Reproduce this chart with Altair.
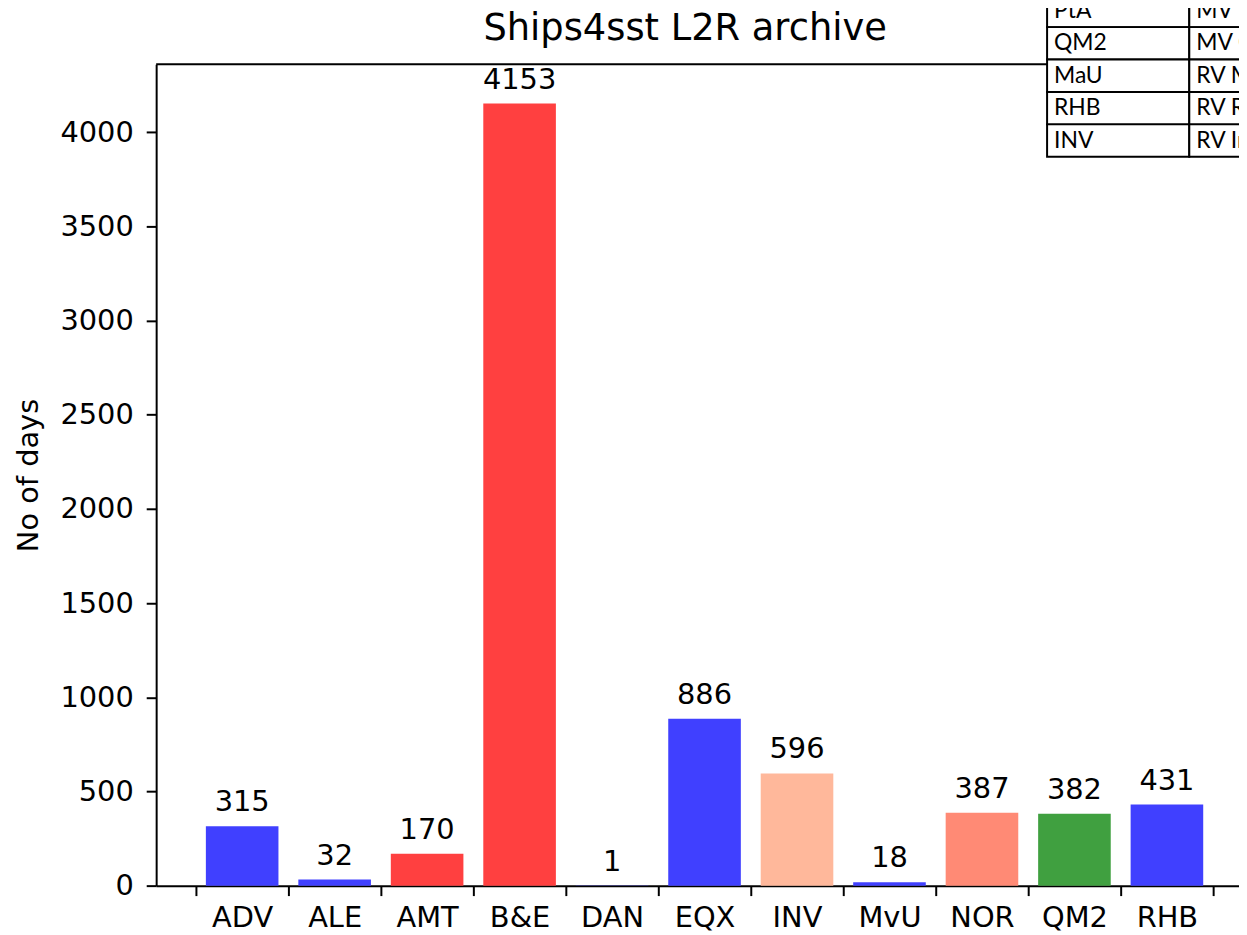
import altair as alt
import pandas as pd

# ---- data ----
ships = ["ADV", "ALE", "AMT", "B&E", "DAN", "EQX", "INV", "MvU", "NOR", "QM2", "RHB"]
days = [315, 32, 170, 4153, 1, 886, 596, 18, 387, 382, 431]
bar_colors = ["#4040ff", "#4040ff", "#ff4040", "#ff4040", "#4040ff", "#4040ff",
              "#ffb89b", "#4040ff", "#ff8a75", "#40a040", "#4040ff"]
y_ticks = [0, 500, 1000, 1500, 2000, 2500, 3000, 3500, 4000]
title_text = "Ships4sst L2R archive"

table_codes = ["PtA", "QM2", "MaU", "RHB", "INV"]
table_names = ["MV Pont-Aven", "MV Queen Mary 2", "RV Maria S. Merian",
               "RV Ronald H. Brown", "RV Investigator"]

df = pd.DataFrame({"ship": ships, "days": days})
tdf = pd.DataFrame(
    [{"code": c, "col": "code", "label": c} for c in table_codes]
    + [{"code": c, "col": "name", "label": n} for c, n in zip(table_codes, table_names)]
)

FONT = "DejaVu Sans"
W, H = 1089, 826

xscale = alt.Scale(domain=ships, range=[0, 1103], paddingInner=0, paddingOuter=0.43)
yscale = alt.Scale(domain=[0, 4360.65], nice=False, zero=True)

base = alt.Chart(df)

bars = base.mark_bar(width=alt.RelativeBandSize(0.785)).encode(
    x=alt.X("ship:N", scale=xscale, title=None,
            axis=alt.Axis(tickBand="extent", labelAngle=0, labelFontSize=29,
                          labelPadding=8, tickSize=10, tickWidth=2, domainWidth=2)),
    y=alt.Y("days:Q", scale=yscale, title="No of days",
            axis=alt.Axis(values=y_ticks, format="d", labelFontSize=29, labelPadding=13,
                          tickSize=10, tickWidth=2, domainWidth=2, grid=False,
                          titleFontSize=29, titleFontWeight="normal",
                          titleX=-128, titleY=413, titleAngle=-90,
                          titleAlign="center", titleBaseline="middle")),
    color=alt.Color("ship:N", scale=alt.Scale(domain=ships, range=bar_colors), legend=None),
)

labels = base.mark_text(font=FONT, fontSize=29, dy=-15, baseline="alphabetic",
                        color="black").encode(
    x=alt.X("ship:N", scale=xscale),
    y=alt.Y("days:Q", scale=yscale),
    text=alt.Text("days:Q", format="d"),
)

one = pd.DataFrame({"t": [title_text]})
spine = alt.Chart(one).mark_rule(color="black", strokeWidth=2).encode(
    x=alt.value(0), x2=alt.value(1103), y=alt.value(0)
)
title = alt.Chart(one).mark_text(font=FONT, fontSize=37, align="center",
                                 baseline="alphabetic", color="black").encode(
    x=alt.value(532), y=alt.value(-24), text="t:N"
)

main = alt.layer(bars, labels, spine, title)

tx = alt.Scale(domain=["code", "name"], range=[896, 1182], paddingInner=0, paddingOuter=0)
ty = alt.Scale(domain=table_codes, range=[-70, 93], paddingInner=0, paddingOuter=0)

rects = alt.Chart(tdf).mark_rect(fill="white", stroke="black", strokeWidth=2).encode(
    x=alt.X("col:N", scale=tx, axis=None),
    y=alt.Y("code:N", scale=ty, axis=None),
)
texts = alt.Chart(tdf).mark_text(align="left", baseline="middle", dx=7, font="Lato",
                                 fontSize=23, color="black").encode(
    x=alt.X("col:N", scale=tx, axis=None, bandPosition=0),
    y=alt.Y("code:N", scale=ty, axis=None),
    text="label:N",
)
table = alt.layer(rects, texts)

chart = alt.layer(main, table).resolve_scale(
    x="independent", y="independent"
).properties(
    width=W, height=H,
    autosize=alt.AutoSizeParams(type="none"),
    padding={"left": 149, "top": 54, "right": 0, "bottom": 47},
).configure_view(stroke=None).configure_axis(
    labelFont=FONT, titleFont=FONT, labelColor="black", titleColor="black",
    tickColor="black", domainColor="black"
)

chart.save("out.html", embed_options={"renderer": "svg", "actions": False})
